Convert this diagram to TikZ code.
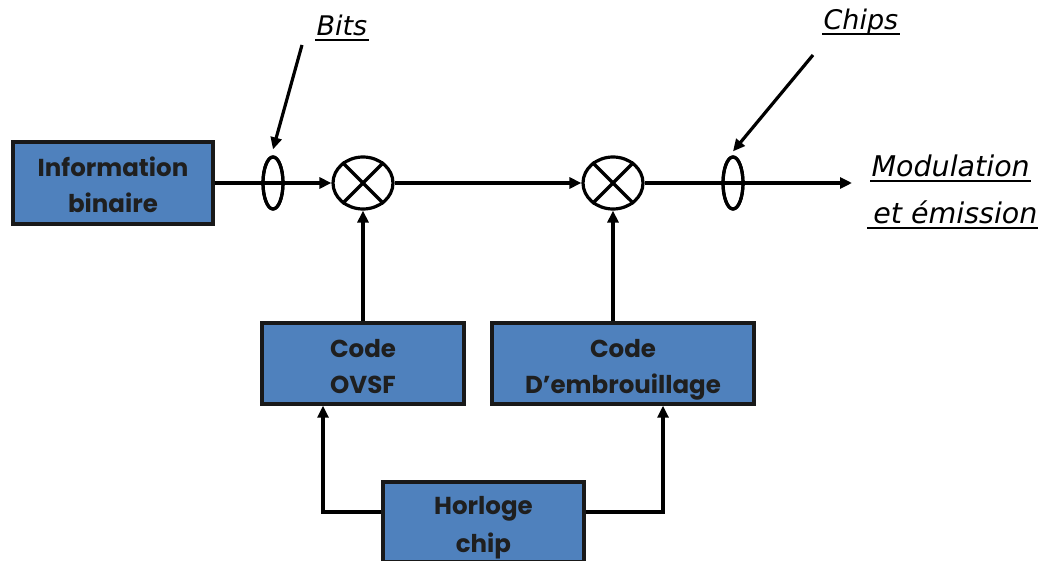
\documentclass[tikz,border=0pt]{standalone}
\usepackage{fontspec}
\newfontfamily\boxfont{Poppins}
\newfontfamily\notefont{DejaVu Sans}
\usetikzlibrary{arrows.meta,shapes.geometric,calc}
\definecolor{boxblue}{HTML}{4F81BD}
% fixed line box for two-line block captions
\newcommand\lnstrut{\rule[-6pt]{0pt}{36pt}}
\begin{document}
\begin{tikzpicture}[x=1pt,y=1pt,
  line width=3.2pt,
  block/.style={draw=black!90,fill=boxblue,line width=3.4pt,align=center,
    font=\boxfont\bfseries\fontsize{24.5}{36}\selectfont,inner sep=0pt,text=black!88},
  ring/.style={draw,ellipse,minimum width=20pt,minimum height=52pt,inner sep=0pt},
  mixer/.style={draw,ellipse,minimum width=60pt,minimum height=52pt,inner sep=0pt},
  arr/.style={-{Triangle[length=12pt,width=11pt]}},
  note/.style={font=\notefont\itshape\fontsize{27}{30}\selectfont,inner sep=0pt},
  uline/.style={line width=1.8pt}]
\useasboundingbox (0,0) rectangle (1038,560);
\clip (0,0) rectangle (1038,560);

% blocks
\node[block,minimum width=200pt,minimum height=82pt] (info) at (113,377) {Information\lnstrut\\binaire\lnstrut};
\node[block,minimum width=202pt,minimum height=81pt] (ovsf) at (363,196.5) {Code\lnstrut\\OVSF\lnstrut};
\node[block,minimum width=262pt,minimum height=81pt] (embr) at (623,196.5) {Code\lnstrut\\D’embrouillage\lnstrut};
\node[block,minimum width=201pt,minimum height=80pt] (horl) at (483.5,38) {Horloge\lnstrut\\chip\lnstrut};

% multipliers and rate markers
\node[ring] (b1) at (273,377) {};
\node[mixer] (mix1) at (363,377) {};
\node[mixer] (mix2) at (613,377) {};
\node[ring] (b2) at (733,377) {};
\coordinate (out) at (852,377);
\foreach \m in {mix1,mix2}{
  \draw (\m.45) -- (\m.225);
  \draw (\m.135) -- (\m.315);
}

% main chain
\draw[arr] (info.east) -- (mix1.west);
\draw[arr] (mix1.east) -- (mix2.west);
\draw[arr] (mix2.east) -- (out);
\node[ring] at (b1) {};
\node[ring] at (b2) {};

% codes into the multipliers
\draw[arr] (ovsf.north) -- (mix1.south);
\draw[arr] (embr.north -| mix2.south) -- (mix2.south);

% clock distribution
\draw[arr] ([yshift=10pt]horl.west) -| ([xshift=-40pt]ovsf.south);
\draw[arr] ([yshift=10pt]horl.east) -| ([xshift=40pt]embr.south);

% labels
\node[note,anchor=base west] (bits) at (315,524) {Bits};
\draw[uline] (bits.base west) ++(0,-4) -- ($(bits.base east)+(0,-4)$);
\coordinate (bitsfrom) at (302,515);
\draw[arr] (bitsfrom) -- ([yshift=6pt]b1.north);

\node[note,anchor=base west] (chips) at (822,530) {Chips};
\draw[uline] (chips.base west) ++(0,-4) -- ($(chips.base east)+(0,-4)$);
\coordinate (chipsfrom) at (813,505);
\draw[arr] (chipsfrom) -- ([yshift=4pt]b2.north);

\node[note,anchor=base west,font=\notefont\itshape\fontsize{28.5}{30}\selectfont] (mod) at (870,383) {Modulation};
\draw[uline] (mod.base west) ++(0,-4) -- ($(mod.base east)+(0,-4)$);
\node[note,anchor=base west,font=\notefont\itshape\fontsize{28.5}{30}\selectfont] (emi) at (867,336) {\,et émission};
\draw[uline] (emi.base west) ++(0,-4) -- ($(emi.base east)+(0,-4)$);
\end{tikzpicture}
\end{document}
